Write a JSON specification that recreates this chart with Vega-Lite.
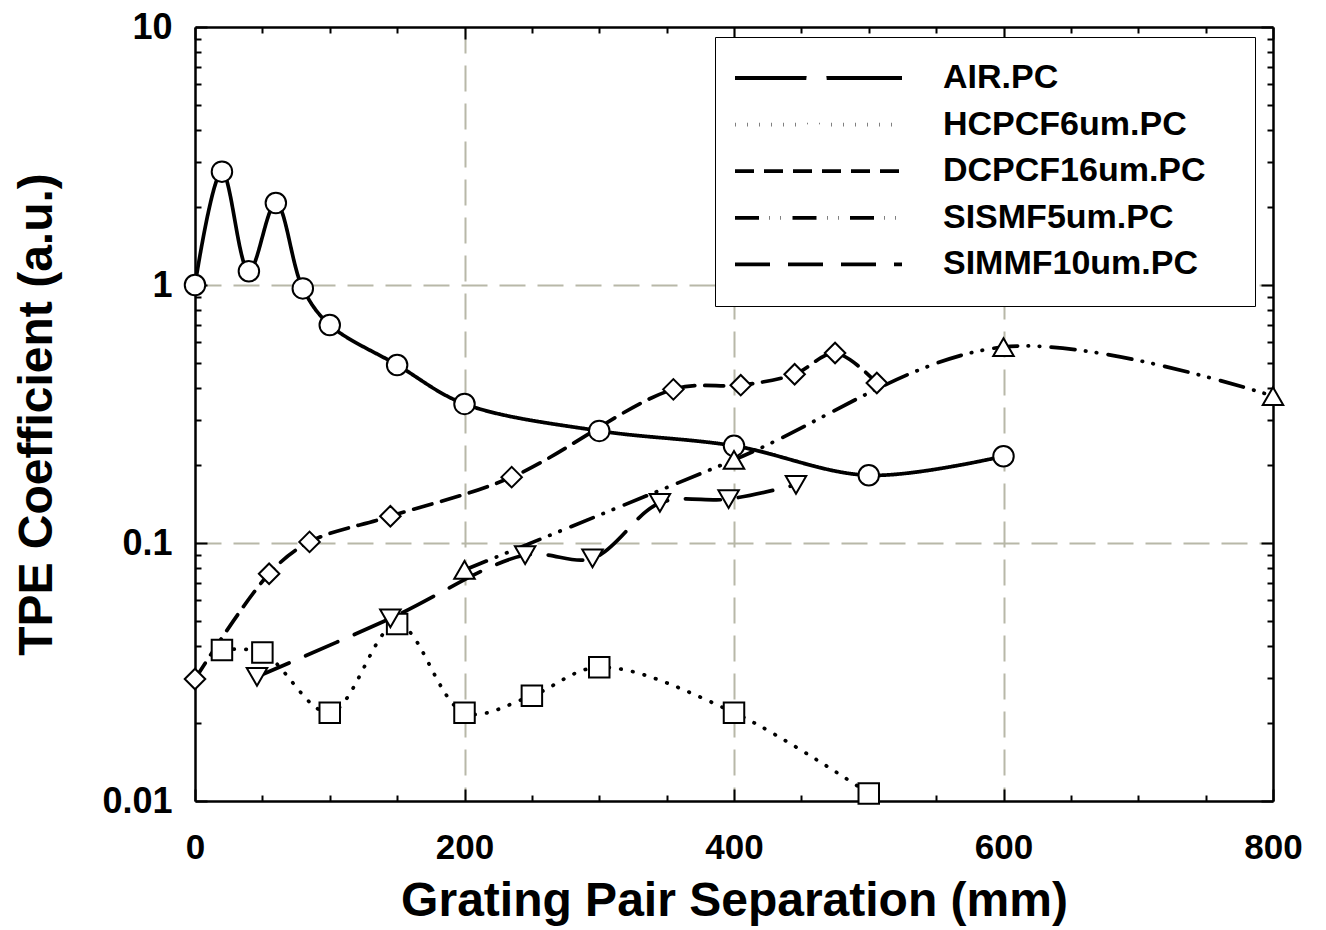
{
  "$schema": "https://vega.github.io/schema/vega-lite/v6.json",
  "autosize": {"type": "none"},
  "padding": {"left": 195, "top": 27, "right": 53, "bottom": 129},
  "width": 1078,
  "height": 774,
  "background": "white",
  "config": {"view": {"stroke": null}},
  "data": {"values": [
    {"series": "AIR.PC", "x": 0, "y": 1.0},
    {"series": "AIR.PC", "x": 20, "y": 2.75},
    {"series": "AIR.PC", "x": 40, "y": 1.13},
    {"series": "AIR.PC", "x": 60, "y": 2.08},
    {"series": "AIR.PC", "x": 80, "y": 0.97},
    {"series": "AIR.PC", "x": 100, "y": 0.70},
    {"series": "AIR.PC", "x": 150, "y": 0.49},
    {"series": "AIR.PC", "x": 200, "y": 0.346},
    {"series": "AIR.PC", "x": 300, "y": 0.272},
    {"series": "AIR.PC", "x": 400, "y": 0.238},
    {"series": "AIR.PC", "x": 500, "y": 0.183},
    {"series": "AIR.PC", "x": 600, "y": 0.217},
    {"series": "HCPCF6um.PC", "x": 20, "y": 0.0385},
    {"series": "HCPCF6um.PC", "x": 50, "y": 0.0376},
    {"series": "HCPCF6um.PC", "x": 100, "y": 0.022},
    {"series": "HCPCF6um.PC", "x": 150, "y": 0.0485},
    {"series": "HCPCF6um.PC", "x": 200, "y": 0.022},
    {"series": "HCPCF6um.PC", "x": 250, "y": 0.0256},
    {"series": "HCPCF6um.PC", "x": 300, "y": 0.033},
    {"series": "HCPCF6um.PC", "x": 400, "y": 0.022},
    {"series": "HCPCF6um.PC", "x": 500, "y": 0.0107},
    {"series": "DCPCF16um.PC", "x": 0, "y": 0.0297},
    {"series": "DCPCF16um.PC", "x": 55, "y": 0.076},
    {"series": "DCPCF16um.PC", "x": 85, "y": 0.101},
    {"series": "DCPCF16um.PC", "x": 145, "y": 0.127},
    {"series": "DCPCF16um.PC", "x": 235, "y": 0.18},
    {"series": "DCPCF16um.PC", "x": 355, "y": 0.394},
    {"series": "DCPCF16um.PC", "x": 405, "y": 0.409},
    {"series": "DCPCF16um.PC", "x": 445, "y": 0.451},
    {"series": "DCPCF16um.PC", "x": 475, "y": 0.545},
    {"series": "DCPCF16um.PC", "x": 506, "y": 0.417},
    {"series": "SISMF5um.PC", "x": 200, "y": 0.0786},
    {"series": "SISMF5um.PC", "x": 400, "y": 0.21},
    {"series": "SISMF5um.PC", "x": 600, "y": 0.575},
    {"series": "SISMF5um.PC", "x": 800, "y": 0.371},
    {"series": "SIMMF10um.PC", "x": 46, "y": 0.0303},
    {"series": "SIMMF10um.PC", "x": 145, "y": 0.051},
    {"series": "SIMMF10um.PC", "x": 245, "y": 0.0898},
    {"series": "SIMMF10um.PC", "x": 295, "y": 0.0872},
    {"series": "SIMMF10um.PC", "x": 345, "y": 0.143},
    {"series": "SIMMF10um.PC", "x": 396, "y": 0.148},
    {"series": "SIMMF10um.PC", "x": 446, "y": 0.168}
  ]},
  "resolve": {"axis": {"x": "independent", "y": "independent"}},
  "layer": [
    {
      "mark": {"type": "line", "interpolate": "catmull-rom", "color": "black", "strokeCap": "round", "strokeWidth": 3.7},
      "encoding": {
        "x": {
          "field": "x", "type": "quantitative",
          "scale": {"domain": [0, 800], "nice": false, "zero": false},
          "axis": {
            "orient": "bottom",
            "values": [0, 50, 100, 150, 200, 250, 300, 350, 400, 450, 500, 550, 600, 650, 700, 750, 800],
            "labelExpr": "datum.value % 200 == 0 ? format(datum.value, 'd') : ''",
            "tickSize": {"condition": {"test": "datum.value % 200 == 0", "value": -12}, "value": -6},
            "tickColor": "black", "tickWidth": 2,
            "domainColor": "black", "domainWidth": 2.5,
            "grid": true, "gridColor": "#b8b8a8", "gridDash": [26, 12], "gridWidth": 2,
            "gridOpacity": {"condition": {"test": "datum.value == 200 || datum.value == 400 || datum.value == 600", "value": 1}, "value": 0},
            "labelFont": "Liberation Sans", "labelFontWeight": "bold", "labelFontSize": 35, "labelColor": "black",
            "labelPadding": 41, "labelFlush": false, "labelOverlap": false, "labelBaseline": "top",
            "title": "Grating Pair Separation (mm)",
            "titleFont": "Liberation Sans", "titleFontWeight": "bold", "titleFontSize": 48, "titleColor": "black", "titlePadding": 6
          }
        },
        "y": {
          "field": "y", "type": "quantitative",
          "scale": {"type": "log", "domain": [0.01, 10], "nice": false},
          "axis": {
            "orient": "left",
            "values": [0.01, 0.02, 0.03, 0.04, 0.05, 0.06, 0.07, 0.08, 0.09, 0.1, 0.2, 0.3, 0.4, 0.5, 0.6, 0.7, 0.8, 0.9, 1, 2, 3, 4, 5, 6, 7, 8, 9, 10],
            "labelExpr": "datum.value == 10 ? '10' : datum.value == 1 ? '1' : datum.value == 0.1 ? '0.1' : datum.value == 0.01 ? '0.01' : ''",
            "tickSize": {"condition": {"test": "datum.value == 10 || datum.value == 1 || datum.value == 0.1 || datum.value == 0.01", "value": -12}, "value": -6},
            "tickColor": "black", "tickWidth": 2,
            "domainColor": "black", "domainWidth": 2.5,
            "grid": true, "gridColor": "#b8b8a8", "gridDash": [26, 12], "gridWidth": 2,
            "gridOpacity": {"condition": {"test": "datum.value == 1 || datum.value == 0.1", "value": 1}, "value": 0},
            "labelFont": "Liberation Sans", "labelFontWeight": "bold", "labelFontSize": 36, "labelColor": "black",
            "labelPadding": 35, "labelFlush": false, "labelOverlap": false, "labelBaseline": "middle",
            "title": "TPE Coefficient (a.u.)",
            "titleFont": "Liberation Sans", "titleFontWeight": "bold", "titleFontSize": 48, "titleColor": "black", "titlePadding": 40
          }
        },
        "strokeDash": {
          "field": "series", "type": "nominal", "sort": null,
          "scale": {"range": [[1, 0], [0.5, 11.5], [19, 10], [24, 10.5, 0.5, 10.5, 0.5, 11.5], [35, 18]]},
          "legend": {
            "orient": "none", "legendX": 520, "legendY": 10, "zindex": 1,
            "title": "n", "titleOrient": "right", "titleOpacity": 0, "titleFontSize": 34, "titlePadding": 10, "titleFont": "Liberation Sans", "titleFontWeight": "bold",
            "symbolType": "stroke", "symbolSize": 27889, "symbolStrokeWidth": 3.8, "symbolStrokeColor": "black",
            "clipHeight": 46, "rowPadding": 0.6, "labelOffset": 39,
            "labelFont": "Liberation Sans", "labelFontWeight": "bold", "labelFontSize": 34, "labelColor": "black",
            "labelLimit": 0,
            "padding": 18, "strokeColor": "black", "fillColor": "white"
          }
        }
      }
    },
    {
      "mark": {"type": "point", "filled": false, "fill": "white", "stroke": "black", "strokeWidth": 2, "opacity": 1, "size": 420},
      "encoding": {
        "x": {
          "field": "x", "type": "quantitative",
          "axis": {
            "orient": "top",
            "values": [0, 50, 100, 150, 200, 250, 300, 350, 400, 450, 500, 550, 600, 650, 700, 750, 800],
            "labels": false, "title": null, "grid": false,
            "tickSize": {"condition": {"test": "datum.value % 200 == 0", "value": -12}, "value": -6},
            "tickColor": "black", "tickWidth": 2,
            "domainColor": "black", "domainWidth": 2.5
          }
        },
        "y": {
          "field": "y", "type": "quantitative",
          "axis": {
            "orient": "right",
            "values": [0.01, 0.02, 0.03, 0.04, 0.05, 0.06, 0.07, 0.08, 0.09, 0.1, 0.2, 0.3, 0.4, 0.5, 0.6, 0.7, 0.8, 0.9, 1, 2, 3, 4, 5, 6, 7, 8, 9, 10],
            "labels": false, "title": null, "grid": false,
            "tickSize": {"condition": {"test": "datum.value == 10 || datum.value == 1 || datum.value == 0.1 || datum.value == 0.01", "value": -12}, "value": -6},
            "tickColor": "black", "tickWidth": 2,
            "domainColor": "black", "domainWidth": 2.5
          }
        },
        "shape": {
          "field": "series", "type": "nominal",
          "scale": {"domain": ["AIR.PC", "HCPCF6um.PC", "DCPCF16um.PC", "SISMF5um.PC", "SIMMF10um.PC"], "range": ["circle", "square", "diamond", "triangle-up", "triangle-down"]},
          "legend": {
            "orient": "none", "legendX": 610, "legendY": 41, "title": null, "zindex": 2,
            "rowPadding": 26.1, "labelExpr": "''", "labelFontSize": 1, "padding": 0, "symbolSize": 420,
            "symbolFillColor": "white", "symbolStrokeColor": "black", "symbolStrokeWidth": 2, "symbolOpacity": 1
          }
        }
      }
    }
  ]
}
